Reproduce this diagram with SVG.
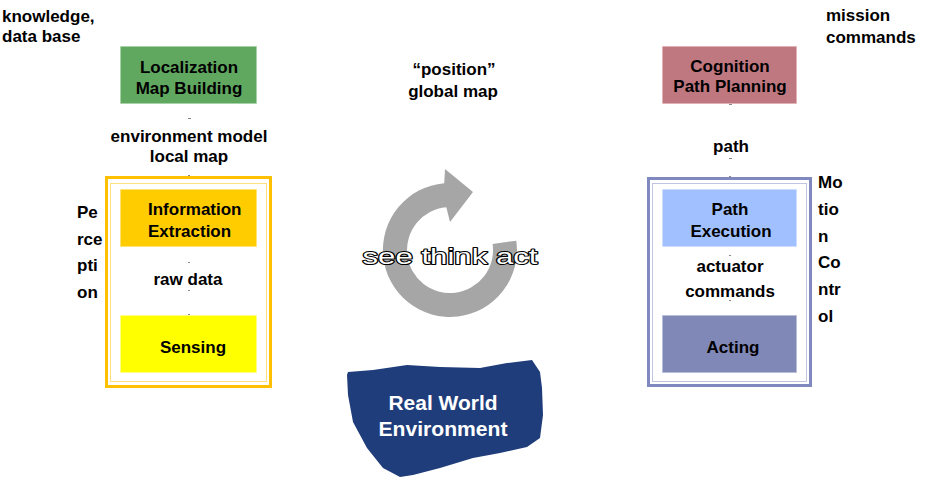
<svg xmlns="http://www.w3.org/2000/svg" width="950" height="478" viewBox="0 0 950 478">
<style>
.t{font-family:"Liberation Sans",Arial,sans-serif;font-weight:bold;font-size:17px;fill:#000}
.c{text-anchor:middle}
.box{stroke-width:1;stroke-dasharray:1 1}
.tick{stroke:#888;stroke-width:1}
</style>
<rect width="950" height="478" fill="#fff"/>
<g id="knowledge"><text class="t" x="2" y="22">knowledge,</text><text class="t" x="2" y="42">data base</text></g>
<g id="mission"><text class="t" x="826" y="21">mission</text><text class="t" x="826" y="43">commands</text></g>
<g id="perception-label"><text class="t" x="77" y="218">Pe</text><text class="t" x="77" y="245">rce</text><text class="t" x="77" y="271">pti</text><text class="t" x="77" y="298">on</text></g>
<g id="motion-label"><text class="t" x="818" y="188">Mo</text><text class="t" x="818" y="215">tio</text><text class="t" x="818" y="242">n</text><text class="t" x="818" y="268">Co</text><text class="t" x="818" y="295">ntr</text><text class="t" x="818" y="322">ol</text></g>
<g id="perception-frame"><rect x="106.5" y="177.5" width="164" height="209" fill="#fff" stroke="#FFC000" stroke-width="3"/><rect x="110.5" y="183.5" width="156" height="198" fill="none" stroke="#FFC000" stroke-width="1" stroke-dasharray="1 1"/></g>
<g id="motion-frame"><rect x="648.5" y="178.5" width="162" height="207" fill="#fff" stroke="#8088C0" stroke-width="3"/><rect x="652.5" y="183.5" width="154" height="198" fill="none" stroke="#8088C0" stroke-width="1" stroke-dasharray="1 1"/></g>
<g id="localization"><rect class="box" x="120.5" y="46.5" width="136" height="57" fill="#60A860" stroke="#9ED09E"/><text class="t c" x="189" y="73">Localization</text><text class="t c" x="189" y="94">Map Building</text></g>
<g id="cognition"><rect class="box" x="662.5" y="46.5" width="134" height="57" fill="#C07880" stroke="#E0A8B0"/><text class="t c" x="730" y="72">Cognition</text><text class="t c" x="730" y="92">Path Planning</text></g>
<g id="information-extraction"><rect class="box" x="120.5" y="189.5" width="136" height="57" fill="#FFCC00" stroke="#FFE070"/><text class="t" x="148" y="215">Information</text><text class="t" x="148" y="237">Extraction</text></g>
<g id="sensing"><rect class="box" x="120.5" y="315.5" width="136" height="57" fill="#FFFF00" stroke="#FFFF90"/><text class="t c" x="193" y="353">Sensing</text></g>
<g id="path-execution"><rect class="box" x="662.5" y="189.5" width="134" height="57" fill="#A0C0FF" stroke="#C8DAFF"/><text class="t c" x="730" y="215">Path</text><text class="t c" x="731" y="237">Execution</text></g>
<g id="acting"><rect class="box" x="662.5" y="315.5" width="134" height="57" fill="#8088B8" stroke="#B0B6D8"/><text class="t c" x="733" y="353">Acting</text></g>
<g id="labels">
<text class="t c" x="189" y="142">environment model</text><text class="t c" x="189" y="162">local map</text>
<text class="t c" x="454" y="75">“position”</text><text class="t c" x="453" y="97">global map</text>
<text class="t c" x="731" y="152">path</text>
<text class="t c" x="188" y="285">raw data</text>
<text class="t c" x="730" y="272">actuator</text><text class="t c" x="730" y="297">commands</text>
</g>
<g id="cycle">
<path d="M516.3,240.7 A67,67 0 1 1 444.2,183.2 L445,169 L473,192 L450,222 L446.3,207.2 A43,43 0 1 0 492.6,244 Z" fill="#A6A6A6"/>
<text x="450" y="264" text-anchor="middle" font-family="'Liberation Sans',Arial,sans-serif" font-size="22" fill="#fff" stroke="#000" stroke-width="2" stroke-linejoin="round" paint-order="stroke" textLength="175" lengthAdjust="spacingAndGlyphs">see think act</text>
</g>
<g id="real-world">
<path d="M348,372 L373,370 L407,365 L440,367 L480,368 L507,363 L532,360 L540,372 L542,388 L543,415 L540,438 L527,447 L500,453 L473,458 L440,468 L413,475 L400,477 L383,468 L367,448 L353,422 L348,395 L347,375 Z" fill="#1F3D7A"/>
<text x="443" y="410" text-anchor="middle" font-family="'Liberation Sans',Arial,sans-serif" font-weight="bold" font-size="20" fill="#fff" textLength="109" lengthAdjust="spacingAndGlyphs">Real World</text>
<text x="443" y="436" text-anchor="middle" font-family="'Liberation Sans',Arial,sans-serif" font-weight="bold" font-size="20" fill="#fff" textLength="129" lengthAdjust="spacingAndGlyphs">Environment</text>
</g>
<g id="connectors">
<line class="tick" x1="188" y1="118.5" x2="191" y2="118.5"/>
<line class="tick" x1="188" y1="175.5" x2="190" y2="175.5"/>
<line class="tick" x1="188" y1="262.5" x2="190" y2="262.5"/>
<line class="tick" x1="188" y1="290.5" x2="190" y2="290.5"/>
<line class="tick" x1="188" y1="314.5" x2="190" y2="314.5"/>
<line class="tick" x1="729" y1="104.5" x2="732" y2="104.5"/>
<line class="tick" x1="729" y1="158.5" x2="732" y2="158.5"/>
<line class="tick" x1="729" y1="176.5" x2="731" y2="176.5"/>
<line class="tick" x1="729" y1="255.5" x2="731" y2="255.5"/>
<line class="tick" x1="729" y1="300.5" x2="731" y2="300.5"/>
</g>
</svg>
